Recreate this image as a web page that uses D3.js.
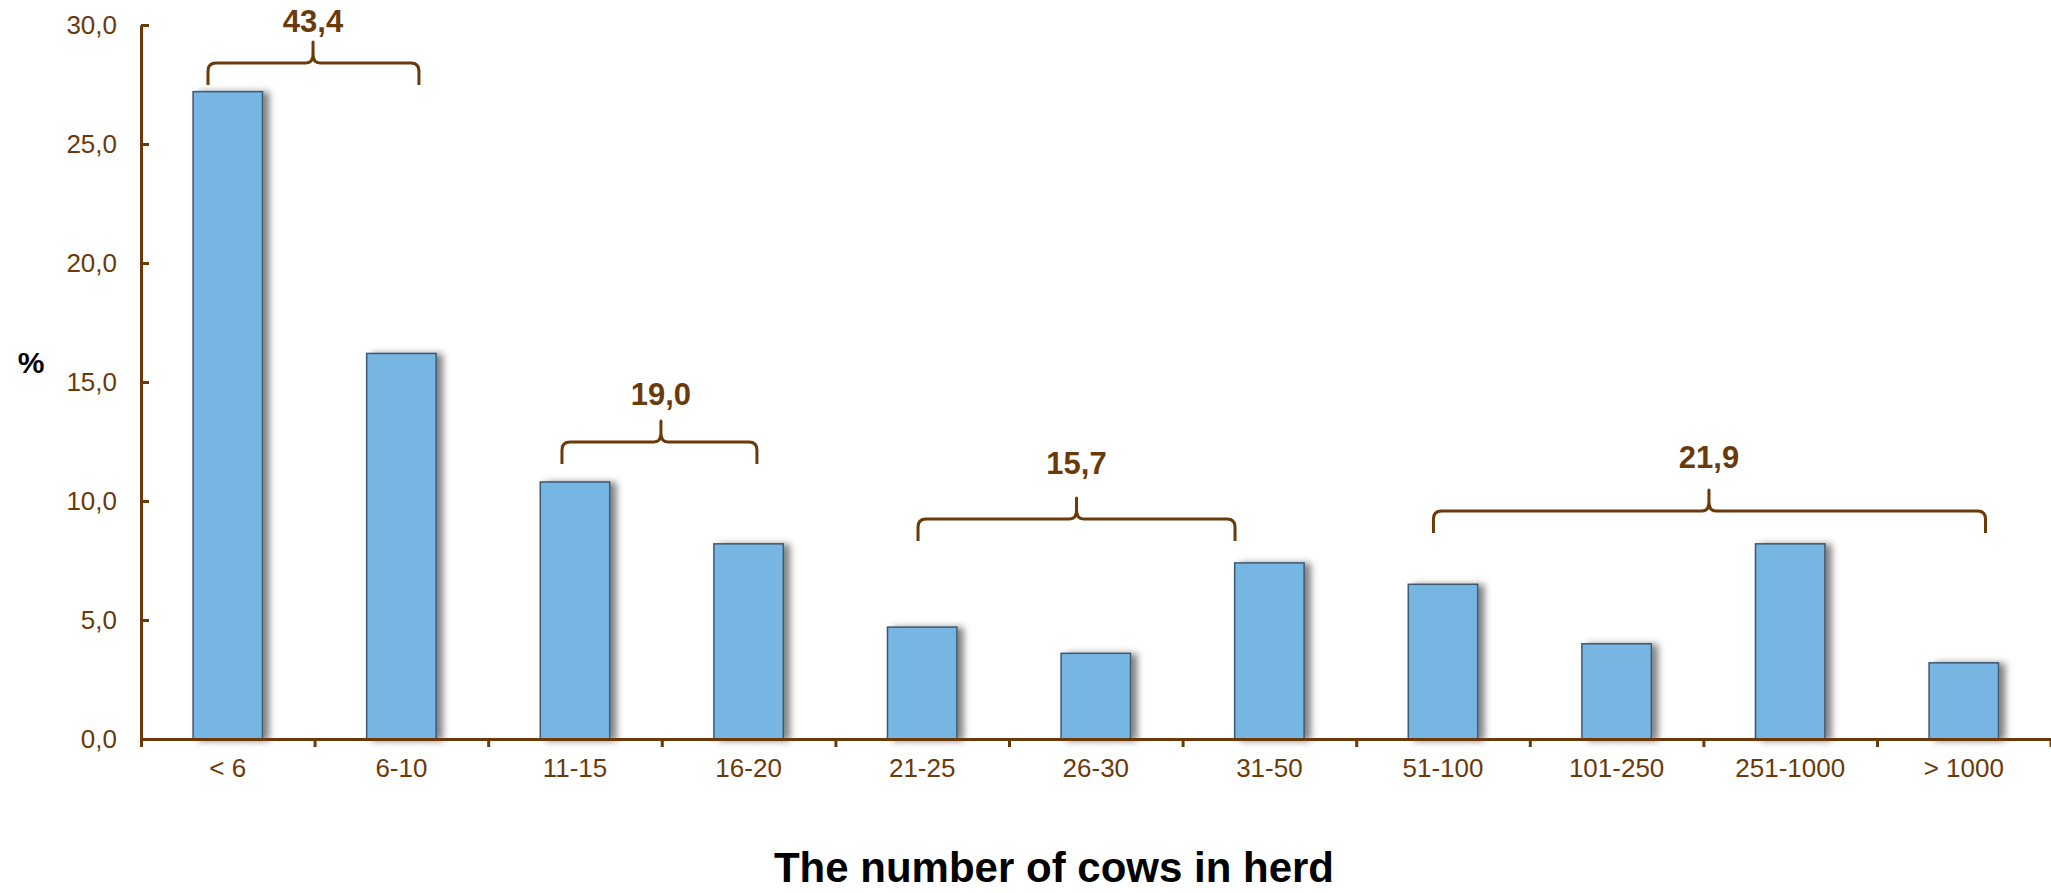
<!DOCTYPE html>
<html>
<head>
<meta charset="utf-8">
<script src="https://cdn.jsdelivr.net/npm/d3@7"></script>
<style>
  html, body { margin: 0; padding: 0; background: #ffffff; }
  svg { display: block; font-family: "Liberation Sans", Arial, sans-serif; }
</style>
</head>
<body>
<svg id="chart" width="2051" height="893"></svg>
<script>
// ---- data ----
const categories = ["< 6", "6-10", "11-15", "16-20", "21-25", "26-30", "31-50", "51-100", "101-250", "251-1000", "> 1000"];
const shares = [27.2, 16.2, 10.8, 8.2, 4.7, 3.6, 7.4, 6.5, 4.0, 8.2, 3.2];
const yTicks = [0, 5, 10, 15, 20, 25, 30];
const groupFirst = ["< 6", "11-15", "21-25", "51-100"];
const groupLast = ["6-10", "16-20", "31-50", "> 1000"];
const groupTotals = [43.4, 19.0, 15.7, 21.9];
const xTitle = "The number of cows in herd";
const yTitle = "%";

// annotation placement (value units for levels, category units for spans)
const braceLevel = [28.4, 12.48, 9.24, 9.58];
const labelLevel = [29.71, 14.03, 11.13, 11.39];
const braceLeft = [0.386, 2.425, 4.476, 7.445];
const braceRight = [1.601, 3.548, 6.302, 10.625];
const braceTip = [0.991, 2.995, 5.389, 9.032];

// ---- layout ----
const plotL = 141, plotR = 2050.6, plotT = 25, plotB = 739;
const brown = "#6b3a0b";
const svg = d3.select("#chart");

const x = d3.scaleBand().domain(categories).range([plotL, plotR]).paddingInner(0.6).paddingOuter(0.3);
const xu = d3.scaleLinear().domain([0, categories.length]).range([plotL, plotR]);
const y = d3.scaleLinear().domain([0, 30]).range([plotB, plotT]);

const loc = d3.formatLocale({decimal: ",", thousands: " ", grouping: [3], currency: ["", ""]});
const fmt = loc.format(".1f");

// shadow filter
const defs = svg.append("defs");
const f = defs.append("filter").attr("id", "shadow").attr("x", "-20%").attr("y", "-20%").attr("width", "160%").attr("height", "140%");
f.append("feDropShadow").attr("dx", 6).attr("dy", 1).attr("stdDeviation", 3.5)
  .attr("flood-color", "#000").attr("flood-opacity", 0.5);

// bars
svg.append("g").selectAll("rect").data(categories).join("rect")
  .attr("x", c => x(c))
  .attr("y", (c, i) => y(shares[i]))
  .attr("width", x.bandwidth())
  .attr("height", (c, i) => y(0) - y(shares[i]))
  .attr("fill", "#77b5e3")
  .attr("stroke", "#3d5870")
  .attr("stroke-width", 1.5)
  .attr("filter", "url(#shadow)");

// y axis
const yAxis = svg.append("g").attr("transform", `translate(${plotL},0)`)
  .call(d3.axisLeft(y).tickValues(yTicks).tickFormat(fmt).tickSize(-8).tickSizeOuter(0).tickPadding(24));
yAxis.select(".domain").attr("stroke", brown).attr("stroke-width", 3);
yAxis.selectAll(".tick line").attr("stroke", brown).attr("stroke-width", 3);
yAxis.selectAll(".tick text").attr("fill", brown).attr("font-size", 26)
  .attr("font-family", "'Liberation Sans', Arial, sans-serif");

// x axis: boundary ticks
const xAxis = svg.append("g").attr("transform", `translate(0,${plotB})`)
  .call(d3.axisBottom(xu).tickValues(d3.range(0, categories.length + 1)).tickSize(8).tickSizeOuter(0).tickFormat(""));
xAxis.select(".domain").attr("stroke", brown).attr("stroke-width", 3);
xAxis.selectAll(".tick line").attr("stroke", brown).attr("stroke-width", 3);

// category labels
const xLab = svg.append("g").attr("transform", `translate(0,${plotB})`)
  .call(d3.axisBottom(x).tickSize(0).tickPadding(20));
xLab.select(".domain").remove();
xLab.selectAll(".tick text").attr("fill", brown).attr("font-size", 26)
  .attr("font-family", "'Liberation Sans', Arial, sans-serif");

// braces
const dd = 22, pp = 21, rr = 8;
groupTotals.forEach((tot, i) => {
  const xl = xu(braceLeft[i]), xr = xu(braceRight[i]), xc = xu(braceTip[i]);
  const h = y(braceLevel[i]);
  const path = [
    `M${xl},${h + dd}`,
    `L${xl},${h + rr}`,
    `Q${xl},${h} ${xl + rr},${h}`,
    `L${xc - 7},${h}`,
    `Q${xc},${h} ${xc},${h - 9}`,
    `L${xc},${h - pp}`,
    `L${xc},${h - 9}`,
    `Q${xc},${h} ${xc + 7},${h}`,
    `L${xr - rr},${h}`,
    `Q${xr},${h} ${xr},${h + rr}`,
    `L${xr},${h + dd}`
  ].join(" ");
  svg.append("path").attr("d", path).attr("fill", "none").attr("stroke", brown)
    .attr("stroke-width", 3).attr("stroke-linejoin", "round").attr("stroke-linecap", "butt");
  svg.append("text").attr("x", xc).attr("y", y(labelLevel[i]))
    .attr("text-anchor", "middle").attr("font-size", 31).attr("font-weight", "bold")
    .attr("fill", brown).text(fmt(tot));
});

// titles
svg.append("text").attr("x", 1054).attr("y", 882).attr("text-anchor", "middle")
  .attr("font-size", 42).attr("font-weight", "bold").attr("fill", "#000").text(xTitle);
svg.append("text").attr("x", 31).attr("y", 373).attr("text-anchor", "middle")
  .attr("font-size", 30).attr("font-weight", "bold").attr("fill", "#000").text(yTitle);
</script>
</body>
</html>
